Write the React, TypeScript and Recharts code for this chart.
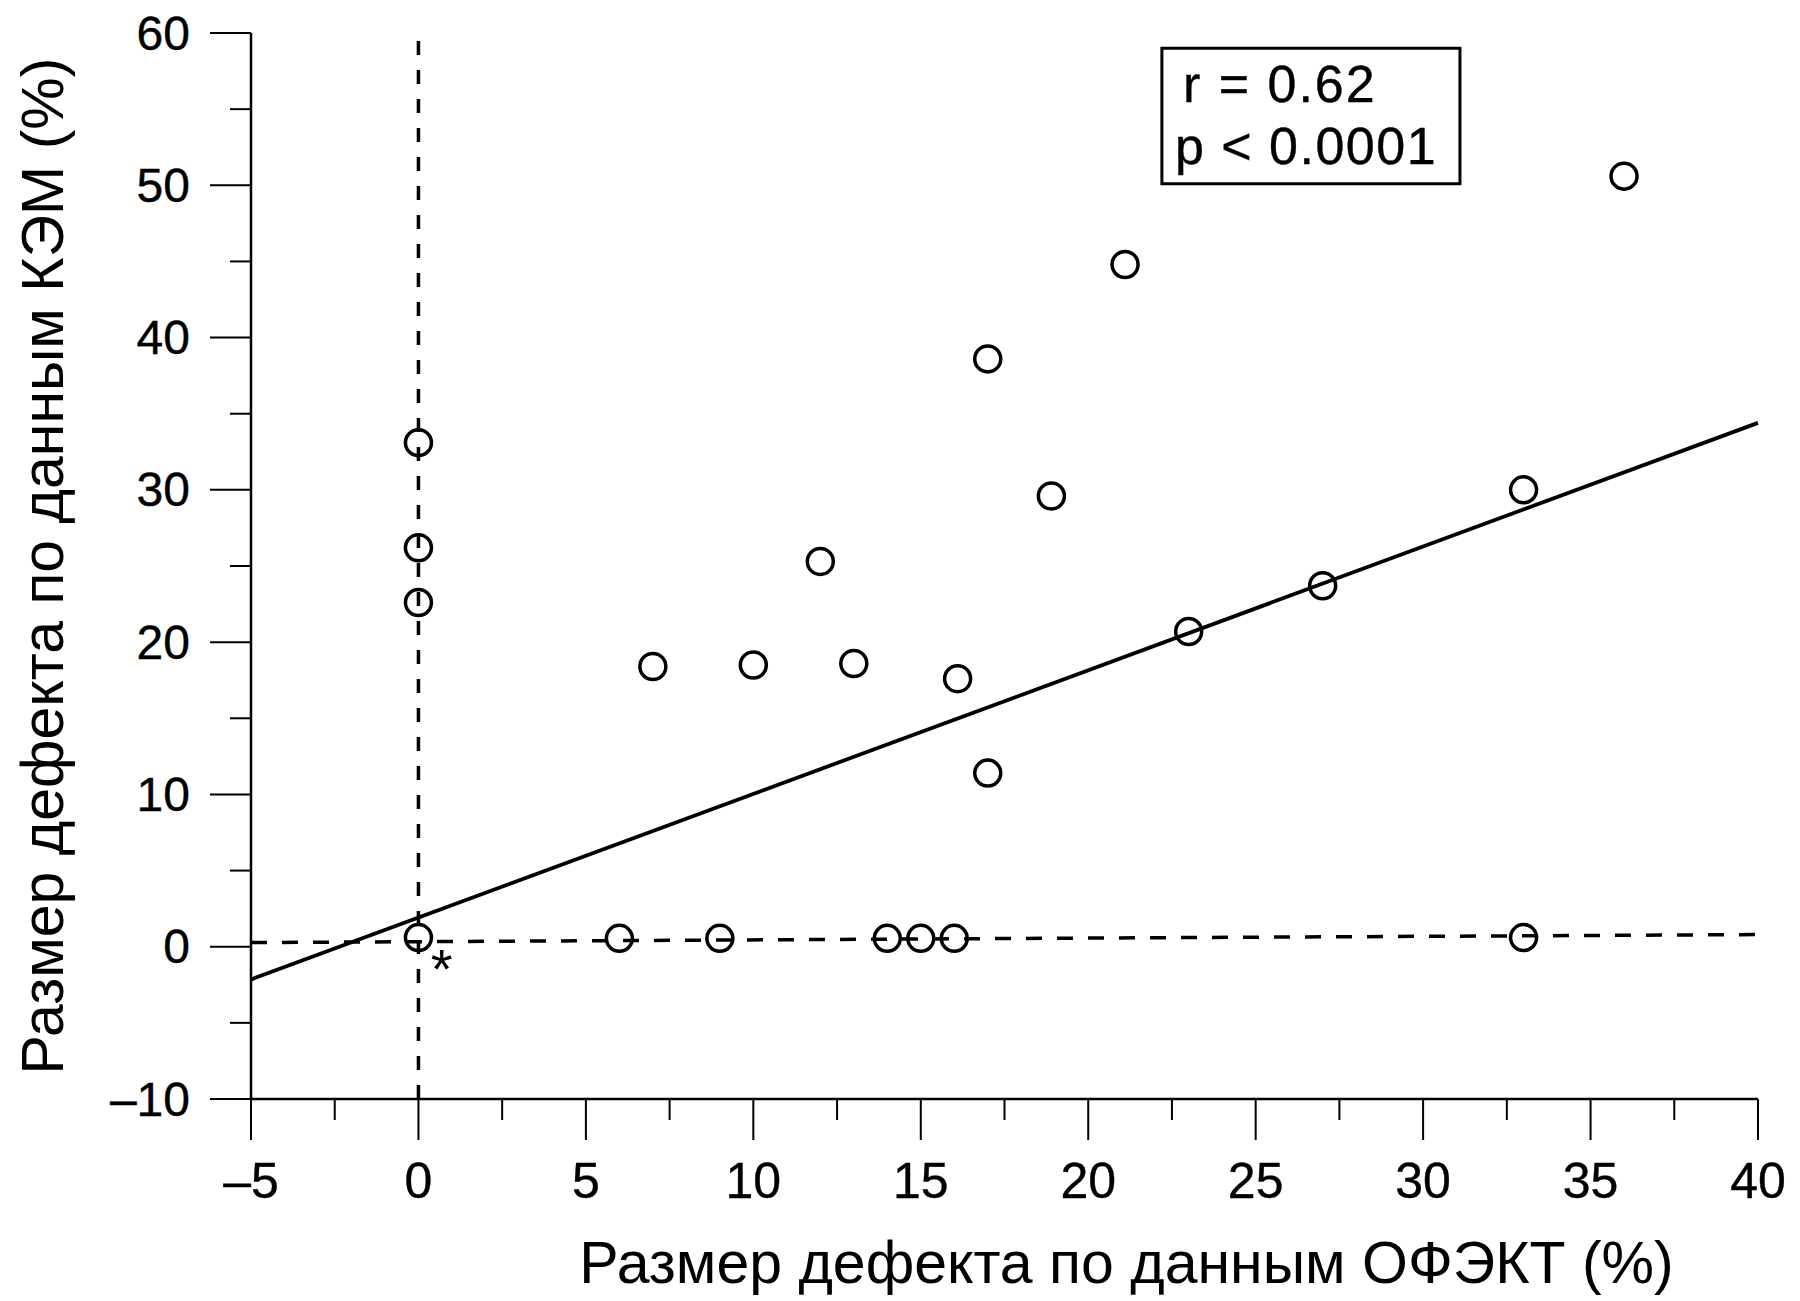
import React from 'react';
import {
  ScatterChart,
  Scatter,
  XAxis,
  YAxis,
  ReferenceLine,
  ReferenceArea,
  ReferenceDot,
  Label,
} from 'recharts';

// ---- data ----
const spectX = [0, 0, 0, 0, 6, 9, 14, 15, 16, 33, 7, 10, 13, 16.1, 17, 12, 17, 18.9, 21.1, 23, 27, 33, 36];
const cemY = [33.1, 26.2, 22.6, 0.6, 0.55, 0.55, 0.55, 0.55, 0.55, 0.6, 18.4, 18.5, 18.6, 17.6, 11.4, 25.3, 38.6, 29.6, 44.8, 20.7, 23.7, 30.0, 50.6];
const points = spectX.map((x, i) => ({ x, y: cemY[i] }));

const xTicks = [-5, -2.5, 0, 2.5, 5, 7.5, 10, 12.5, 15, 17.5, 20, 22.5, 25, 27.5, 30, 32.5, 35, 37.5, 40];
const yTicks = [-10, -5, 0, 5, 10, 15, 20, 25, 30, 35, 40, 45, 50, 55, 60];
const xMajor = [-5, 0, 5, 10, 15, 20, 25, 30, 35, 40];
const yMajor = [-10, 0, 10, 20, 30, 40, 50, 60];

const regression = [
  { x: -5, y: -2.15 },
  { x: 40, y: 34.4 },
];
const zeroHorizontal = [
  { x: -5, y: 0.27 },
  { x: 40, y: 0.8 },
];
const zeroVertical = [
  { x: 0, y: -10 },
  { x: 0, y: 59.8 },
];
const statsBox = { x1: 22.2, x2: 31.1, y1: 50.1, y2: 59.0 };
const statsLines = ['r = 0.62', 'p < 0.0001'];
const asterisk = { x: 0.69, y: -0.55, text: '*' };

const xTitle = 'Размер дефекта по данным ОФЭКТ (%)';
const yTitle = 'Размер дефекта по данным КЭМ (%)';

const FONT = '"Liberation Sans", Arial, Helvetica, sans-serif';
const fmt = (v: number) => (v < 0 ? '–' + Math.abs(v) : String(v));

const YTick = (props: any) => {
  const { x, y, payload } = props;
  const major = yMajor.includes(payload.value);
  const len = major ? 41 : 21;
  return (
    <g>
      <line x1={x} x2={x - len} y1={y} y2={y} stroke="#000" strokeWidth={2} />
      {major && (
        <text x={x - 61} y={y} textAnchor="end" dominantBaseline="central" fontSize={48} fontFamily={FONT} fill="#000" stroke="#000" strokeWidth={0.4}>
          {fmt(payload.value)}
        </text>
      )}
    </g>
  );
};

const XTick = (props: any) => {
  const { x, y, payload } = props;
  const major = xMajor.includes(payload.value);
  const len = major ? 41 : 21;
  return (
    <g>
      <line x1={x} x2={x} y1={y} y2={y + len} stroke="#000" strokeWidth={2} />
      {major && (
        <text x={x} y={y + 99} textAnchor="middle" fontSize={50} fontFamily={FONT} fill="#000" stroke="#000" strokeWidth={0.4}>
          {fmt(payload.value)}
        </text>
      )}
    </g>
  );
};

const CircleShape = (props: any) => (
  <circle cx={props.cx} cy={props.cy} r={13} fill="none" stroke="#000" strokeWidth={3.5} />
);

const StatsLabel = (props: any) => {
  const vb = props.viewBox || {};
  return (
    <g>
      <text x={vb.x + 21} y={vb.y + 54} fontSize={52} letterSpacing={2} fontFamily={FONT} fill="#000" stroke="#000" strokeWidth={0.4}>
        {statsLines[0]}
      </text>
      <text x={vb.x + 13} y={vb.y + 116} fontSize={52} letterSpacing={1.5} fontFamily={FONT} fill="#000" stroke="#000" strokeWidth={0.4}>
        {statsLines[1]}
      </text>
    </g>
  );
};

const XTitle = (props: any) => {
  const vb = props.viewBox || {};
  return (
    <text x={vb.x + vb.width / 2 + 122} y={vb.y + 184} textAnchor="middle" fontSize={59} fontFamily={FONT} fill="#000">
      {xTitle}
    </text>
  );
};

const YTitle = (props: any) => {
  const vb = props.viewBox || {};
  const cx = vb.x - 88;
  const cy = vb.y + vb.height / 2;
  return (
    <text x={cx} y={cy} transform={`rotate(-90, ${cx}, ${cy})`} textAnchor="middle" fontSize={59} fontFamily={FONT} fill="#000">
      {yTitle}
    </text>
  );
};

export default function App() {
  return (
    <div style={{ position: 'absolute', left: 0, top: 0, width: 1800, height: 1301, background: '#fff', fontFamily: FONT }}>
      <ScatterChart width={1800} height={1301} margin={{ top: 33, right: 42, bottom: 52, left: 151 }}>
        <XAxis
          type="number"
          dataKey="x"
          domain={[-5, 40]}
          ticks={xTicks}
          interval={0}
          tickSize={0}
          tickMargin={0}
          tickLine={false}
          tick={<XTick />}
          axisLine={{ stroke: '#000', strokeWidth: 2.5 }}
          height={150}
          allowDataOverflow
        >
          <Label content={<XTitle />} />
        </XAxis>
        <YAxis
          type="number"
          dataKey="y"
          domain={[-10, 60]}
          ticks={yTicks}
          interval={0}
          tickSize={0}
          tickMargin={0}
          tickLine={false}
          tick={<YTick />}
          axisLine={{ stroke: '#000', strokeWidth: 2.5 }}
          width={100}
          allowDataOverflow
        >
          <Label content={<YTitle />} />
        </YAxis>
        <ReferenceLine segment={zeroVertical} stroke="#000" strokeWidth={3.5} strokeDasharray="14 15" ifOverflow="visible" />
        <ReferenceLine segment={zeroHorizontal} stroke="#000" strokeWidth={3.5} strokeDasharray="16 15" ifOverflow="visible" />
        <ReferenceLine segment={regression} stroke="#000" strokeWidth={3.8} ifOverflow="visible" />
        <ReferenceArea
          x1={statsBox.x1}
          x2={statsBox.x2}
          y1={statsBox.y1}
          y2={statsBox.y2}
          fill="#fff"
          fillOpacity={0}
          stroke="#000"
          strokeWidth={3}
          ifOverflow="visible"
          label={<StatsLabel />}
        />
        <ReferenceDot
          x={asterisk.x}
          y={asterisk.y}
          r={0}
          ifOverflow="visible"
          shape={(p: any) => (
            <text x={p.cx} y={p.cy + 33} textAnchor="middle" fontSize={56} fontFamily={FONT} fill="#000">
              {asterisk.text}
            </text>
          )}
        />
        <Scatter data={points} shape={<CircleShape />} isAnimationActive={false} />
      </ScatterChart>
    </div>
  );
}
